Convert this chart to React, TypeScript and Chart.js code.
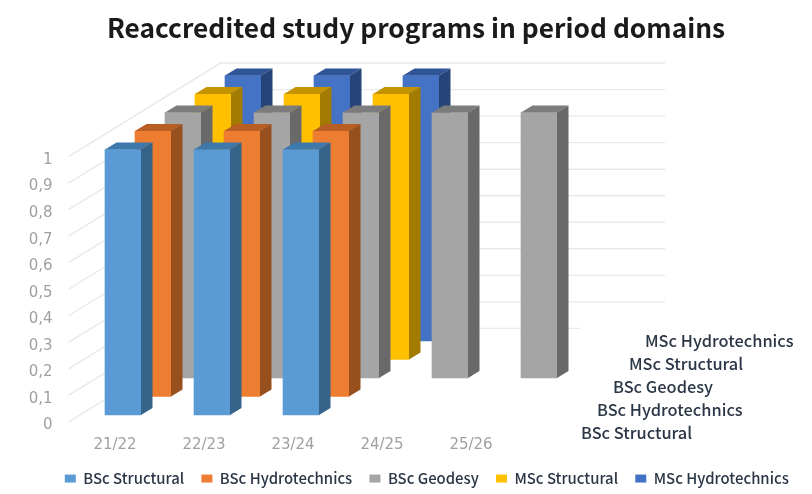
import React, { useEffect, useRef } from "react";
import { Chart, registerables } from "chart.js";

Chart.register(...registerables);

const categories = ["21/22", "22/23", "23/24", "24/25", "25/26"];
const seriesNames = ["BSc Structural", "BSc Hydrotechnics", "BSc Geodesy", "MSc Structural", "MSc Hydrotechnics"];
const bscStructural = [1, 1, 1, null, null];
const bscHydrotechnics = [1, 1, 1, null, null];
const bscGeodesy = [1, 1, 1, 1, 1];
const mscStructural = [1, 1, 1, null, null];
const mscHydrotechnics = [1, 1, 1, null, null];
const seriesValues = [bscStructural, bscHydrotechnics, bscGeodesy, mscStructural, mscHydrotechnics];
const frontColors = ["#5B9BD5", "#ED7D31", "#A5A5A5", "#FFC000", "#4472C4"];
const topColors = ["#3F78AB", "#B85E22", "#7C7C7C", "#C49400", "#2F5597"];
const sideColors = ["#35638A", "#974F1D", "#696969", "#A37B00", "#264478"];

const FONT = "'Noto Sans CJK JP', 'Noto Sans', sans-serif";
const depthStep = { x: 30, y: -18.5 };
const frontShift = { x: 8, y: -7 };
const barSide = { x: 11.5, y: -7 };
const wall = { x: 150, y: -93.5, right: 665, zeroRight: 580 };

const depthPlugin = {
  id: "depth",
  beforeDatasetsDraw(chart: any) {
    const { ctx, chartArea, scales } = chart;
    ctx.save();
    ctx.strokeStyle = "#E9E9E9";
    ctx.lineWidth = 1.4;
    scales.y.ticks.forEach((t: any) => {
      const y = scales.y.getPixelForValue(t.value);
      const x0 = chartArea.left - 2;
      const xb = chartArea.left + wall.x;
      ctx.beginPath();
      ctx.moveTo(x0, y);
      ctx.lineTo(xb, y + wall.y);
      ctx.lineTo(t.value === 0 ? wall.zeroRight : wall.right, y + wall.y);
      ctx.stroke();
    });
    ctx.restore();
  },
  beforeDatasetDraw(chart: any, args: any) {
    const k = args.index;
    chart.ctx.save();
    chart.ctx.translate(frontShift.x + depthStep.x * k, frontShift.y + depthStep.y * k);
  },
  afterDatasetDraw(chart: any, args: any) {
    const { ctx } = chart;
    const k = args.index;
    args.meta.data.forEach((el: any, i: number) => {
      if (seriesValues[k][i] == null) return;
      const x0 = el.x - el.width / 2;
      const x1 = el.x + el.width / 2;
      ctx.fillStyle = topColors[k];
      ctx.beginPath();
      ctx.moveTo(x0, el.y);
      ctx.lineTo(x0 + barSide.x, el.y + barSide.y);
      ctx.lineTo(x1 + barSide.x, el.y + barSide.y);
      ctx.lineTo(x1, el.y);
      ctx.closePath();
      ctx.fill();
      ctx.fillStyle = sideColors[k];
      ctx.beginPath();
      ctx.moveTo(x1, el.y);
      ctx.lineTo(x1 + barSide.x, el.y + barSide.y);
      ctx.lineTo(x1 + barSide.x, el.base + barSide.y);
      ctx.lineTo(x1, el.base);
      ctx.closePath();
      ctx.fill();
    });
    ctx.restore();
  },
  afterDraw(chart: any) {
    const { ctx } = chart;
    ctx.save();
    ctx.fillStyle = "#2B3646";
    ctx.font = `500 16.4px ${FONT}`;
    ctx.textAlign = "left";
    ctx.textBaseline = "middle";
    seriesNames.forEach((name, k) => {
      ctx.fillText(name, 581 + 16 * k, 433 - 23 * k);
    });
    ctx.restore();
  },
};

export default function App() {
  const ref = useRef<HTMLCanvasElement | null>(null);
  useEffect(() => {
    if (!ref.current) return;
    const chart = new Chart(ref.current, {
      type: "bar",
      data: {
        labels: categories,
        datasets: seriesNames.map((name, k) => ({
          label: name,
          data: seriesValues[k],
          backgroundColor: frontColors[k],
          borderWidth: 0,
          barThickness: 36,
          grouped: false,
          clip: false as any,
        })),
      },
      options: {
        responsive: false,
        animation: false,
        devicePixelRatio: 1,
        layout: { padding: { left: 26, right: 6, top: 8, bottom: -2 } },
        scales: {
          x: {
            grid: { display: false },
            border: { display: false },
            ticks: { color: "#A0A0A0", font: { family: "'DejaVu Sans'", size: 15 }, padding: 6, maxRotation: 0 },
            afterFit(s: any) { s.height = 32; },
          },
          y: {
            min: 0,
            max: 1,
            grid: { display: false, drawTicks: false },
            border: { display: false },
            ticks: {
              stepSize: 0.1,
              color: "#A0A0A0",
              font: { family: "'DejaVu Sans'", size: 15 },
              padding: 18,
              labelOffset: 3.5,
              callback: (v: any) => String(Math.round(v * 10) / 10).replace(".", ","),
            },
            afterFit(s: any) { s.width = 44.5; },
          },
          spacer: {
            type: "linear",
            position: "right",
            grid: { display: false },
            border: { display: false },
            ticks: { display: false },
            afterFit(s: any) { s.width = 290.5; },
          },
        } as any,
        plugins: {
          title: {
            display: true,
            text: "Reaccredited study programs in period domains",
            color: "#1A1A1A",
            font: { family: FONT, size: 26.3, weight: "bold" },
            padding: { top: 4, bottom: 113 },
          },
          legend: {
            position: "bottom",
            align: "end",
            labels: {
              boxWidth: 11,
              boxHeight: 8,
              padding: 17.2,
              color: "#2B3646",
              font: { family: FONT, size: 14.9, weight: "500" },
            },
          },
          tooltip: { enabled: false },
        },
      },
      plugins: [depthPlugin],
    } as any);
    return () => chart.destroy();
  }, []);
  return (
    <div style={{ position: "absolute", left: 0, top: 0, width: 812, height: 494, background: "#fff" }}>
      <canvas ref={ref} width={812} height={494} style={{ display: "block", filter: "blur(0.6px)" }} />
    </div>
  );
}
